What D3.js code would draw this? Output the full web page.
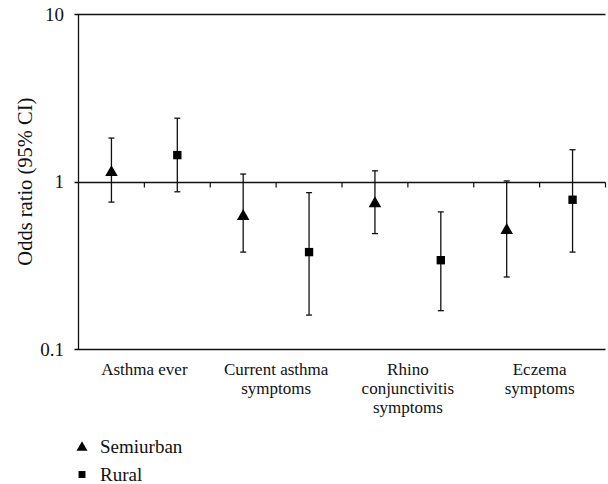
<!DOCTYPE html>
<html>
<head>
<meta charset="utf-8">
<script src="https://cdn.jsdelivr.net/npm/d3@7/dist/d3.min.js"></script>
<style>
  html, body { margin: 0; padding: 0; background: #fff; }
  svg { display: block; }
  svg text { font-family: "Liberation Serif", "DejaVu Serif", "Times New Roman", Times, serif; fill: #111; }
</style>
</head>
<body>
<svg id="chart" width="608" height="484" font-family="Liberation Serif, DejaVu Serif, serif"></svg>
<script>
// ---- data ----
const categories = ["Asthma ever", "Current asthma symptoms", "Rhino conjunctivitis symptoms", "Eczema symptoms"];
const categoryLines = [["Asthma ever"], ["Current asthma", "symptoms"], ["Rhino", "conjunctivitis", "symptoms"], ["Eczema", "symptoms"]];
const seriesNames = ["Semiurban", "Rural"];
const semiurbanOR = [1.15, 0.63, 0.75, 0.52];
const semiurbanLo = [0.755, 0.38, 0.49, 0.27];
const semiurbanHi = [1.82, 1.11, 1.16, 1.01];
const ruralOR = [1.44, 0.38, 0.34, 0.78];
const ruralLo = [0.87, 0.16, 0.17, 0.38];
const ruralHi = [2.39, 0.86, 0.66, 1.55];
const yTicks = [0.1, 1, 10];
const yTickLabels = ["0.1", "1", "10"];

(function () {
const series = [
  { name: seriesNames[0], symbol: d3.symbolTriangle, or: semiurbanOR, lo: semiurbanLo, hi: semiurbanHi },
  { name: seriesNames[1], symbol: d3.symbolSquare, or: ruralOR, lo: ruralLo, hi: ruralHi }
];

// ---- layout ----
const mLeft = 78.5, mRight = 605.5, mTop = 14, mBottom = 349.3;
const svg = d3.select("#chart");
const x = d3.scaleBand().domain(categories).range([mLeft, mRight]).padding(0);
const xs = d3.scaleBand().domain(seriesNames).range([0, x.bandwidth()]).padding(0);
const y = d3.scaleLog().domain([0.1, 10]).range([mBottom, mTop]);
const ink = "#111";

// horizontal lines at major ticks
yTicks.forEach(t => {
  svg.append("line")
    .attr("x1", mLeft - 4).attr("x2", mRight)
    .attr("y1", Math.round(y(t)) + 0.5).attr("y2", Math.round(y(t)) + 0.5)
    .attr("stroke", ink).attr("stroke-width", 1.3);
});
// y axis line
svg.append("line")
  .attr("x1", mLeft).attr("x2", mLeft)
  .attr("y1", Math.round(y(10)) + 0.5).attr("y2", Math.round(y(0.1)) + 0.5)
  .attr("stroke", ink).attr("stroke-width", 1.3);

// y tick labels
yTicks.forEach((t, i) => {
  svg.append("text")
    .attr("x", 64).attr("y", y(t) + 6.5)
    .attr("text-anchor", "end")
    .attr("font-size", 19)
    .text(yTickLabels[i]);
});

// ticks on the y=1 crossing line at slot boundaries
const y1 = Math.round(y(1)) + 0.5;
const tickXs = [];
categories.forEach(c => {
  tickXs.push(x(c) + xs.bandwidth());
  tickXs.push(x(c) + x.bandwidth());
});
tickXs.forEach(tx => {
  svg.append("line")
    .attr("x1", tx).attr("x2", tx)
    .attr("y1", y1).attr("y2", y1 + 5)
    .attr("stroke", ink).attr("stroke-width", 1.2);
});

// y title
svg.append("text")
  .attr("transform", `translate(32,${y(1)}) rotate(-90)`)
  .attr("text-anchor", "middle")
  .attr("font-size", 20.5)
  .text("Odds ratio (95% CI)");

// category labels
categories.forEach((c, i) => {
  const t = svg.append("text")
    .attr("x", x(c) + x.bandwidth() / 2)
    .attr("y", 374.5)
    .attr("text-anchor", "middle")
    .attr("font-size", 17);
  categoryLines[i].forEach((ln, j) => {
    t.append("tspan")
      .attr("x", x(c) + x.bandwidth() / 2)
      .attr("dy", j === 0 ? 0 : 19)
      .text(ln);
  });
});

// error bars and markers
series.forEach(s => {
  categories.forEach((c, i) => {
    const cx = x(c) + xs(s.name) + xs.bandwidth() / 2;
    const g = svg.append("g");
    g.append("line")
      .attr("x1", cx).attr("x2", cx)
      .attr("y1", y(s.hi[i])).attr("y2", y(s.lo[i]))
      .attr("stroke", ink).attr("stroke-width", 1.3);
    [s.hi[i], s.lo[i]].forEach(v => {
      g.append("line")
        .attr("x1", cx - 3).attr("x2", cx + 3)
        .attr("y1", y(v)).attr("y2", y(v))
        .attr("stroke", ink).attr("stroke-width", 1.3);
    });
    const size = s.symbol === d3.symbolTriangle ? 68 : 70;
    const dy = s.symbol === d3.symbolTriangle ? 1 : 0;
    g.append("path")
      .attr("d", d3.symbol().type(s.symbol).size(size)())
      .attr("transform", `translate(${cx},${y(s.or[i]) + dy})`)
      .attr("fill", "#000");
  });
});

// legend
series.forEach((s, i) => {
  const ly = 446.5 + i * 28;
  const size = s.symbol === d3.symbolTriangle ? 52 : 48;
  svg.append("path")
    .attr("d", d3.symbol().type(s.symbol).size(size)())
    .attr("transform", `translate(82,${ly + (i === 0 ? 1 : 0)})`)
    .attr("fill", "#000");
  svg.append("text")
    .attr("x", 100).attr("y", ly + 6)
    .attr("font-size", 19)
    .text(s.name);
});
})();
</script>
</body>
</html>
